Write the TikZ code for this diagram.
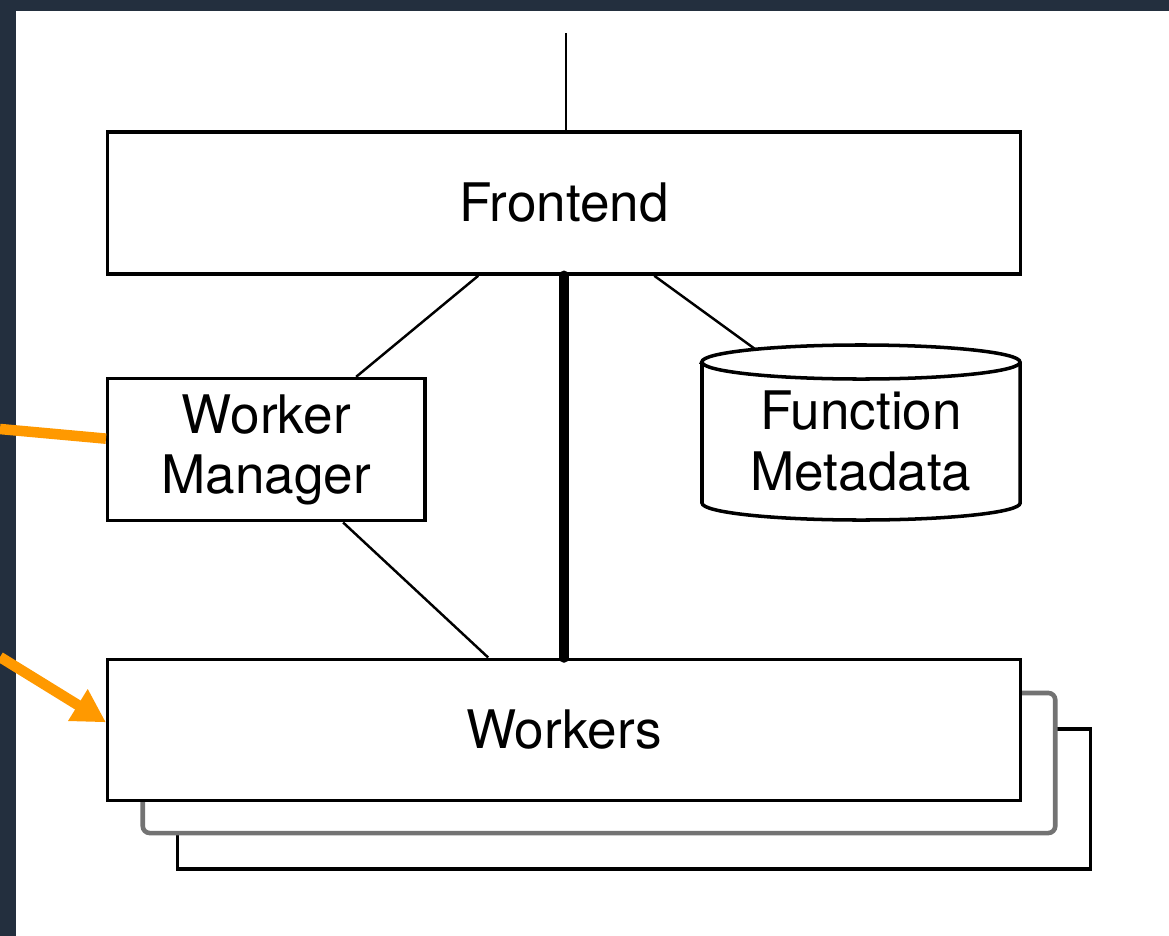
\documentclass[tikz,border=0pt]{standalone}
\usepackage{fontspec}
\setmainfont{TeX Gyre Heros}
\usetikzlibrary{positioning,arrows.meta}
\definecolor{awsnavy}{HTML}{232F3E}
\definecolor{awsorange}{HTML}{FF9900}

\begin{document}
\begin{tikzpicture}[x=0.01cm, y=-0.01cm,
    box/.style={draw, line width=1pt, fill=white, inner sep=0pt,
      font=\fontsize{15.1}{17.1}\selectfont, align=center},
    label text/.style={inner sep=0pt, font=\fontsize{15.1}{17.1}\selectfont, align=center},
    link/.style={line width=0.7pt},
    pointer/.style={draw=awsorange, line width=3pt}]
  \useasboundingbox (0,0) rectangle (1169,936);
  \fill[awsnavy] (0,0) rectangle (1169,936);
  \fill[white] (16,11) rectangle (1169,936);

  \node[box, minimum width=9.12cm, minimum height=1.42cm] (frontend) at (564,203) {Frontend};
  \node[box, minimum width=3.17cm, minimum height=1.42cm,
    below=1.01cm of frontend.south west, anchor=north west] (manager) {Worker\\Manager};

  % stacked copies behind the workers
  \node[box, minimum width=9.12cm, minimum height=1.40cm] (workersthree) at (634,799) {};
  \node[box, draw=black!55, line width=1.3pt, rounded corners=2pt,
    minimum width=9.12cm, minimum height=1.40cm] (workerstwo) at (599,763) {};
  \node[box, minimum width=9.12cm, minimum height=1.41cm,
    below=1.35cm of manager.south west, anchor=north west] (workers) {Workers};

  % metadata store
  \draw[line width=1pt, fill=white] (702,362) -- (702,503) arc (180:360:1.59cm and 0.17cm)
    -- (1020,362) arc (0:180:1.59cm and 0.17cm) -- cycle;
  \draw[line width=1pt] (702,362) arc (180:360:1.59cm and 0.17cm);
  \node[label text] (meta) at (861,441) {Function\\Metadata};
  \coordinate (metatop) at (755,349);

  \coordinate (entry) at (566,33);
  \draw[link] (entry) -- (entry |- frontend.north);
  \draw[link] ([xshift=3.72cm]frontend.south west) -- ([xshift=2.5cm]manager.north west);
  \draw[link] ([xshift=5.48cm]frontend.south west) -- (metatop);
  \draw[link] ([xshift=2.37cm]manager.south west) -- ([xshift=3.82cm]workers.north west);
  \draw[line width=3pt, line cap=round] (frontend.south) -- (workers.north);

  \coordinate (callin) at (0,429);
  \coordinate (callout) at (0,657);
  \draw[pointer] (callin) -- ([yshift=0.11cm]manager.west);
  \draw[pointer, -{Triangle[length=3.3mm, width=3.5mm]}] (callout) -- ([yshift=0.075cm]workers.west);
\end{tikzpicture}
\end{document}
